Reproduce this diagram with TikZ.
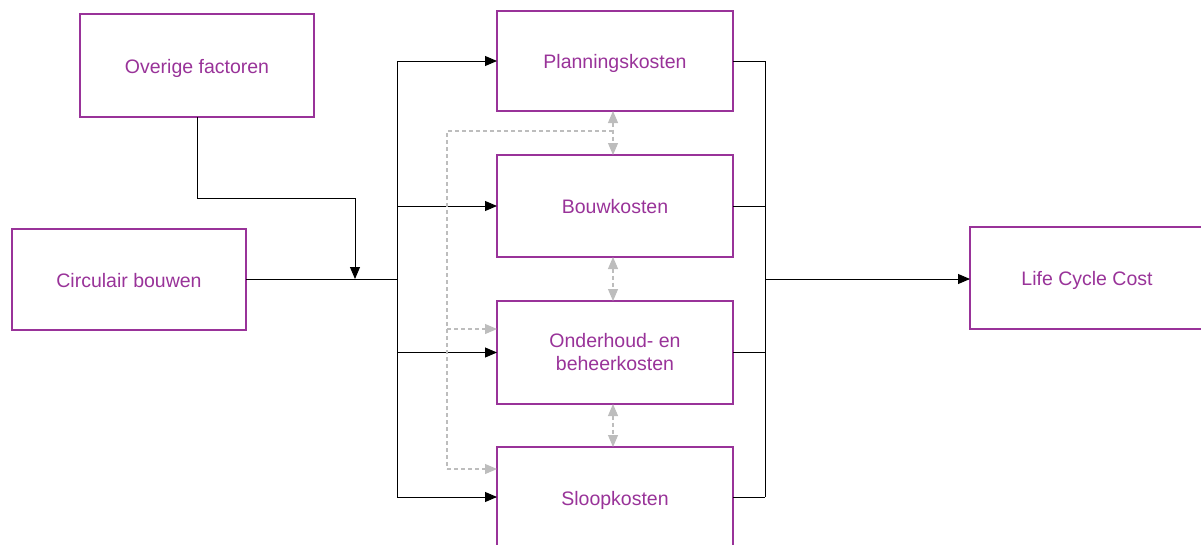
\documentclass[tikz,border=0pt]{standalone}
\usepackage{fontspec}
\setmainfont{Liberation Sans}
\usetikzlibrary{arrows.meta}
\definecolor{purp}{HTML}{993399}
\definecolor{lgray}{HTML}{BDBDBD}
\tikzset{
  box/.style={draw=purp, line width=1.8pt, fill=white, text=purp, align=center,
    font=\fontsize{19.5}{23}\selectfont, inner sep=0pt, outer sep=0pt},
  oneline/.style={text height=15pt, text depth=0pt},
  conn/.style={draw=black, line width=0.9pt},
  arr/.style={conn, -{Triangle[length=12pt,width=10pt]}},
  gd/.style={draw=lgray, line width=1.1pt, dash pattern=on 4pt off 3pt},
  garr/.style={gd, -{Triangle[length=12pt,width=10pt]}},
  gdarr/.style={gd, {Triangle[length=12pt,width=10pt]}-{Triangle[length=12pt,width=10pt]}}
}
\begin{document}
\begin{tikzpicture}[x=1pt,y=-1pt]
\useasboundingbox (0,0) rectangle (1201,544);
\clip (0,0) rectangle (1201,544);

% coordinates
\coordinate (ovk) at (197,198);
\coordinate (j1) at (355,279);
\coordinate (bl) at (397,279);
\coordinate (bt) at (397,61);
\coordinate (bb) at (397,497);
\coordinate (rt) at (765,61);
\coordinate (rb) at (765,497);
\coordinate (rm) at (765,279);
\coordinate (gt) at (447,131);
\coordinate (gm) at (447,329);
\coordinate (gb) at (447,469);
\coordinate (gx) at (613,131);

% nodes
\node[box, oneline, minimum width=234pt, minimum height=103pt] (ov) at (197,65.5) {Overige factoren};
\node[box, oneline, minimum width=234pt, minimum height=101pt] (ci) at (129,279.5) {Circulair bouwen};
\node[box, oneline, minimum width=236pt, minimum height=100pt] (pl) at (615,61) {Planningskosten};
\node[box, oneline, minimum width=236pt, minimum height=102pt] (bo) at (615,206) {Bouwkosten};
\node[box, minimum width=236pt, minimum height=103pt] (on) at (615,352.5) {Onderhoud- en\\beheerkosten};
\node[box, oneline, minimum width=236pt, minimum height=101pt] (sl) at (615,497.5) {Sloopkosten};
\node[box, oneline, minimum width=234pt, minimum height=102pt] (lc) at (1087,278) {Life Cycle Cost};

% black connectors
\draw[arr] (ov.south) -- (ovk) -| (j1);
\draw[conn] (ci.east |- bl) -- (bl);
\draw[conn] (bt) -- (bb);
\draw[arr] (bt) -- (bt -| pl.west);
\draw[arr] (bo.west -| bt) -- (bo.west);
\draw[arr] (on.west -| bt) -- (on.west);
\draw[arr] (bb) -- (bb -| sl.west);

\draw[conn] (pl.east |- rt) -- (rt);
\draw[conn] (bo.east) -- (bo.east -| rt);
\draw[conn] (on.east) -- (on.east -| rt);
\draw[conn] (rb -| sl.east) -- (rb);
\draw[conn] (rt) -- (rb);
\draw[arr] (rm) -- (rm -| lc.west);

% gray dashed connectors
\draw[gd] (gx) -- (gt) -- (gb);
\draw[garr] (gm) -- (gm -| on.west);
\draw[garr] (gb) -- (gb -| sl.west);
\draw[gdarr] ([xshift=-2pt]pl.south) -- ([xshift=-2pt]bo.north);
\draw[gdarr] ([xshift=-2pt]bo.south) -- ([xshift=-2pt]on.north);
\draw[gdarr] ([xshift=-2pt]on.south) -- ([xshift=-2pt]sl.north);
\end{tikzpicture}
\end{document}
